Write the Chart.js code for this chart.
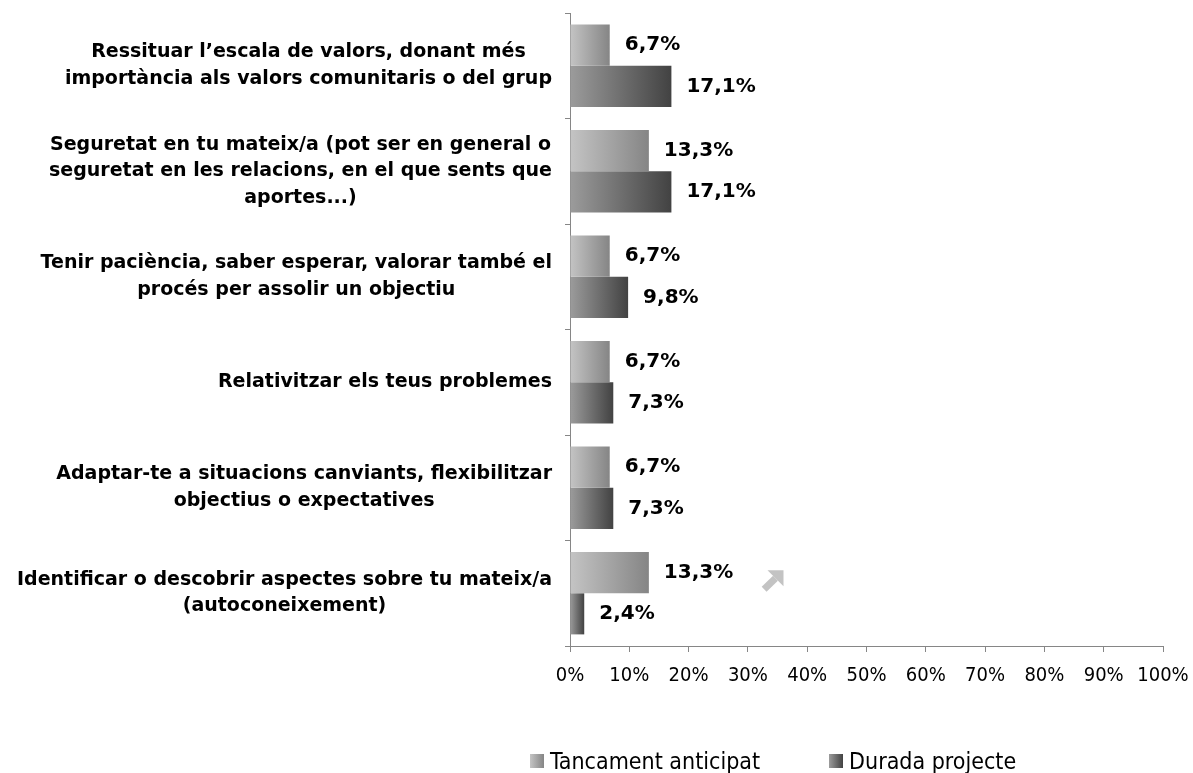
<!DOCTYPE html>
<html>
<head>
<meta charset="utf-8">
<script src="https://cdn.jsdelivr.net/npm/chart.js@4.4.1/dist/chart.umd.min.js"></script>
<style>
  html, body { margin: 0; padding: 0; background: #fff; }
  #wrap { position: relative; width: 1193px; height: 773px; }
  #legend { position: absolute; left: 530px; top: 748px; display: flex; align-items: center;
    font-family: "DejaVu Sans Condensed", "DejaVu Sans", sans-serif; font-size: 23px; color: #000; }
  .item { display: flex; align-items: center; }
  .box { width: 14px; height: 14px; margin-right: 6px; }
</style>
</head>
<body>
<div id="wrap">
  <canvas id="c" width="1193" height="773"></canvas>
  <div id="legend"></div>
</div>
<script>
const categories = [
  ["Ressituar l’escala de valors, donant més", "importància als valors comunitaris o del grup"],
  ["Seguretat en tu mateix/a (pot ser en general o", "seguretat en les relacions, en el que sents que", "aportes...)"],
  ["Tenir paciència, saber esperar, valorar també el", "procés per assolir un objectiu"],
  ["Relativitzar els teus problemes"],
  ["Adaptar-te a situacions canviants, flexibilitzar", "objectius o expectatives"],
  ["Identificar o descobrir aspectes sobre tu mateix/a", "(autoconeixement)"]
];
const seriesNames = ["Tancament anticipat", "Durada projecte"];
const tancamentAnticipat = [6.7, 13.3, 6.7, 6.7, 6.7, 13.3];
const duradaProjecte = [17.1, 17.1, 9.8, 7.3, 7.3, 2.4];
const xTickValues = [0, 10, 20, 30, 40, 50, 60, 70, 80, 90, 100];

const FONT_C = '"DejaVu Sans Condensed", "DejaVu Sans", sans-serif';
const FONT_W = '"DejaVu Sans", sans-serif';
const gradStops = [["#c4c4c4", "#858585"], ["#9c9c9c", "#424242"]];

function barGradient(ctx) {
  const chart = ctx.chart;
  const stops = gradStops[ctx.datasetIndex];
  const xs = chart.scales.x;
  if (!chart.chartArea || !xs || ctx.raw == null) return stops[1];
  const x0 = xs.getPixelForValue(0);
  const x1 = xs.getPixelForValue(ctx.raw);
  const g = chart.ctx.createLinearGradient(x0, 0, Math.max(x1, x0 + 1), 0);
  g.addColorStop(0, stops[0]);
  g.addColorStop(1, stops[1]);
  return g;
}

const yLabelPlugin = {
  id: 'yLabels',
  afterDraw(chart) {
    const ys = chart.scales.y;
    const c = chart.ctx;
    c.save();
    c.font = 'bold 19px ' + FONT_W;
    c.fillStyle = '#000';
    c.textAlign = 'center';
    c.textBaseline = 'middle';
    const lh = 26.5;
    categories.forEach((lines, i) => {
      const yc = ys.getPixelForValue(i);
      const w = Math.max(...lines.map(l => c.measureText(l).width));
      const cx = ys.right - 18 - w / 2;
      const start = yc - (lines.length - 1) * lh / 2;
      lines.forEach((l, k) => c.fillText(l, cx, start + k * lh));
    });
    c.restore();
  }
};

const valueLabelPlugin = {
  id: 'valueLabels',
  afterDatasetsDraw(chart) {
    const c = chart.ctx;
    c.save();
    c.font = 'bold 20px ' + FONT_W;
    c.fillStyle = '#000';
    c.textAlign = 'left';
    c.textBaseline = 'middle';
    chart.data.datasets.forEach((ds, di) => {
      const meta = chart.getDatasetMeta(di);
      meta.data.forEach((el, i) => {
        const v = ds.data[i];
        c.fillText(v.toFixed(1).replace('.', ',') + '%', el.x + 15, el.y);
      });
    });
    c.restore();
  }
};

const arrowPlugin = {
  id: 'arrow',
  afterDraw(chart) {
    const xs = chart.scales.x, ys = chart.scales.y;
    const c = chart.ctx;
    const xa = xs.getPixelForValue(32.4), xb = xs.getPixelForValue(36.0);
    const yc = ys.getPixelForValue(categories.length - 1);
    const yb = yc - 2, ya = yc - 23;
    c.save();
    c.fillStyle = '#c3c3c3';
    c.strokeStyle = '#c3c3c3';
    c.lineWidth = 7;
    c.beginPath();
    c.moveTo(xa + 2, yb - 2);
    c.lineTo(xb - 8, ya + 8);
    c.stroke();
    c.beginPath();
    c.moveTo(xb, ya);
    c.lineTo(xb - 16, ya);
    c.lineTo(xb, ya + 16);
    c.closePath();
    c.fill();
    c.restore();
  }
};

new Chart(document.getElementById('c'), {
  type: 'bar',
  data: {
    labels: categories,
    datasets: [
      { label: seriesNames[0], data: tancamentAnticipat, backgroundColor: barGradient, borderWidth: 0 },
      { label: seriesNames[1], data: duradaProjecte, backgroundColor: barGradient, borderWidth: 0 }
    ]
  },
  options: {
    indexAxis: 'y',
    responsive: false,
    animation: false,
    events: [],
    layout: { padding: { top: 13, right: 30, left: 0, bottom: 0 } },
    datasets: { bar: { categoryPercentage: 0.78, barPercentage: 1.0 } },
    plugins: { legend: { display: false }, tooltip: { enabled: false } },
    scales: {
      x: {
        min: 0, max: 100,
        afterBuildTicks(scale) { scale.ticks = xTickValues.map(v => ({ value: v })); },
        afterFit(scale) { scale.height = 127; scale.paddingRight = 0; scale.paddingLeft = 0; },
        border: { color: '#868686', width: 1 },
        grid: { drawOnChartArea: false, drawTicks: true, tickLength: 6, color: '#868686' },
        ticks: { padding: 12, color: '#000', maxRotation: 0, autoSkip: false,
          font: { family: FONT_C, size: 20 }, callback: v => v + '%' }
      },
      y: {
        afterFit(scale) { scale.width = 570; },
        border: { color: '#868686', width: 1 },
        grid: { drawOnChartArea: false, drawTicks: true, tickLength: 5, color: '#868686', offset: true },
        ticks: { display: false }
      }
    }
  },
  plugins: [yLabelPlugin, valueLabelPlugin, arrowPlugin]
});

const legend = document.getElementById('legend');
seriesNames.forEach((name, i) => {
  const it = document.createElement('div');
  it.className = 'item';
  if (i > 0) it.style.marginLeft = '69px';
  const b = document.createElement('div');
  b.className = 'box';
  b.style.background = 'linear-gradient(to right, ' + gradStops[i][0] + ', ' + gradStops[i][1] + ')';
  const t = document.createElement('span');
  t.textContent = name;
  it.appendChild(b); it.appendChild(t);
  legend.appendChild(it);
});
</script>
</body>
</html>
